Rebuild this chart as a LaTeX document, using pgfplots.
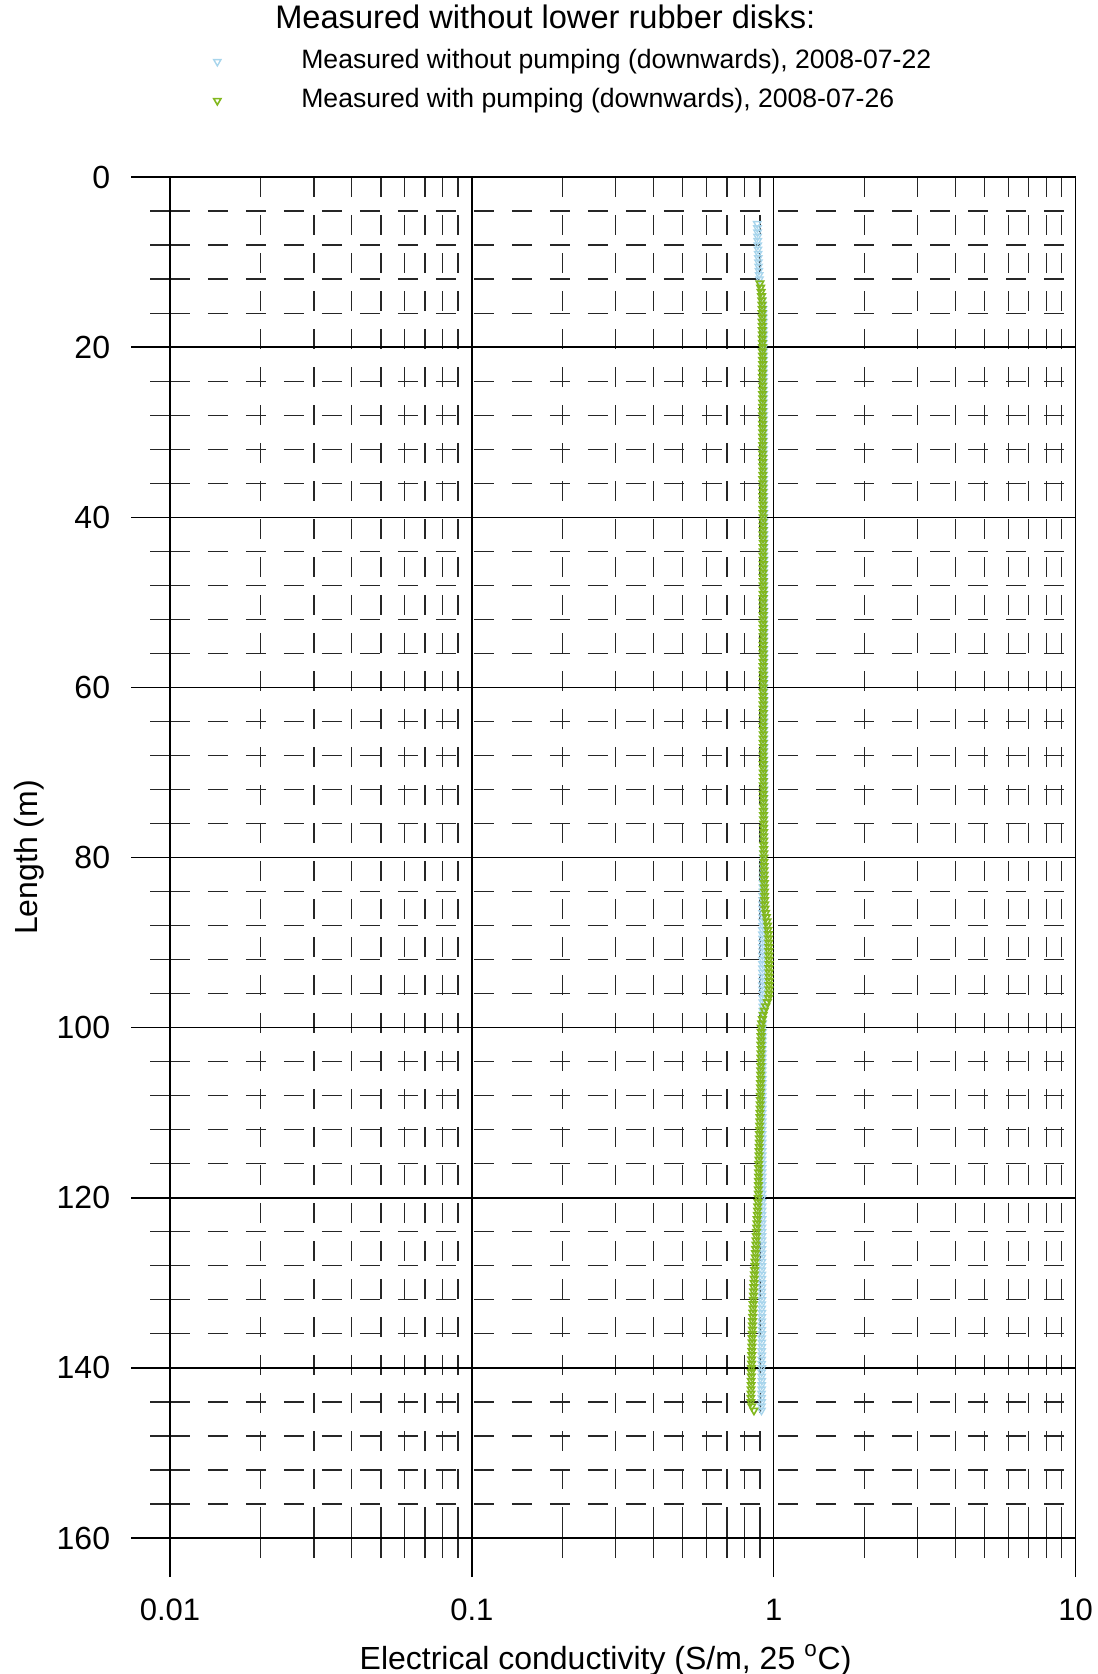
\documentclass[border=0pt]{standalone}
\usepackage{fontspec}
\setmainfont{Liberation Sans}
\usepackage{pgfplots}
\pgfplotsset{compat=1.18}

\definecolor{nopump}{RGB}{168,213,236}
\definecolor{pump}{RGB}{130,184,30}

\begin{document}
\begin{tikzpicture}
\begin{axis}[
    scale only axis,
    width=452.8pt, height=680.5pt,
    xmode=log, xmin=0.01, xmax=10,
    ymin=0, ymax=160, y dir=reverse,
    xtick={0.01,0.1,1,10}, xticklabels={0.01,0.1,1,10},
    minor xtick={0.02,0.03,0.04,0.05,0.06,0.07,0.08,0.09,0.2,0.3,0.4,0.5,0.6,0.7,0.8,0.9,2,3,4,5,6,7,8,9},
    ytick={0,20,...,160}, minor y tick num=4,
    xtick pos=left, ytick pos=left,
    grid=both,
    major grid style={black, line width=0.75pt},
    minor grid style={black!85, line width=0.6pt, dash pattern=on 10pt off 9pt},
    tick align=center,
    major tick length=39pt, minor tick length=20pt,
    major tick style={black, line width=0.75pt},
    minor tick style={black!85, line width=0.6pt},
    axis line style={line width=0.75pt},
    /pgf/number format/assume math mode=true,
    tick label style={font=\fontsize{15.5}{18}\selectfont},
    xticklabel style={yshift=-7.5pt},
    yticklabel style={xshift=-7pt, font=\fontsize{16}{18}\selectfont},
    label style={font=\fontsize{16}{19}\selectfont},
    xlabel={Electrical conductivity (S/m, 25 \textsuperscript{o}C)},
    ylabel={Length (m)},
    xlabel style={at={(axis description cs:0.481,-0.0897)}, anchor=center},
    ylabel style={at={(axis description cs:-0.155,0.5)}, anchor=center},
    title={Measured without lower rubber disks:},
    title style={at={(axis description cs:0.1085,1.1087)}, anchor=west, font=\fontsize{16.3}{19}\selectfont},
    legend cell align=left,
    legend style={at={(axis description cs:0.043,1.0704)}, anchor=west, draw=none, fill=none,
        inner sep=0pt, row sep=6.5pt, font=\fontsize{13.3}{15}\selectfont,
        nodes={inner sep=0pt, text height=10pt, text depth=3pt}},
    legend image code/.code={\path[draw=none, fill=none] (-4pt,-5pt) rectangle (42pt,5pt); \draw plot coordinates {(0pt,0pt)};},
]
\addplot[only marks, mark=triangle, mark size=2.1pt, mark options={rotate=180, draw=nopump, line width=0.7pt, fill=none}] coordinates {
(0.882,5.5) (0.883,6) (0.884,6.5) (0.884,7) (0.885,7.5) (0.886,8) (0.887,8.5) (0.888,9) (0.889,9.5) (0.890,10)
(0.891,10.5) (0.893,11) (0.895,11.5) (0.897,12) (0.900,12.5) (0.904,13) (0.909,13.5) (0.913,14) (0.917,14.5) (0.920,15)
(0.922,15.5) (0.923,16) (0.924,16.5) (0.925,17) (0.924,17.5) (0.925,18) (0.926,18.5) (0.925,19) (0.924,19.5) (0.925,20)
(0.925,20.5) (0.926,21) (0.925,21.5) (0.924,22) (0.925,22.5) (0.925,23) (0.926,23.5) (0.925,24) (0.924,24.5) (0.925,25)
(0.926,25.5) (0.925,26) (0.925,26.5) (0.924,27) (0.925,27.5) (0.926,28) (0.925,28.5) (0.925,29) (0.924,29.5) (0.925,30)
(0.926,30.5) (0.925,31) (0.925,31.5) (0.926,32) (0.925,32.5) (0.924,33) (0.925,33.5) (0.926,34) (0.926,34.5) (0.925,35)
(0.926,35.5) (0.927,36) (0.926,36.5) (0.926,37) (0.927,37.5) (0.927,38) (0.926,38.5) (0.927,39) (0.928,39.5) (0.927,40)
(0.928,40.5) (0.928,41) (0.927,41.5) (0.928,42) (0.929,42.5) (0.928,43) (0.928,43.5) (0.927,44) (0.928,44.5) (0.929,45)
(0.928,45.5) (0.928,46) (0.927,46.5) (0.928,47) (0.928,47.5) (0.929,48) (0.928,48.5) (0.928,49) (0.927,49.5) (0.928,50)
(0.928,50.5) (0.929,51) (0.928,51.5) (0.928,52) (0.927,52.5) (0.928,53) (0.929,53.5) (0.928,54) (0.928,54.5) (0.927,55)
(0.928,55.5) (0.928,56) (0.929,56.5) (0.928,57) (0.927,57.5) (0.928,58) (0.928,58.5) (0.929,59) (0.928,59.5) (0.928,60)
(0.927,60.5) (0.928,61) (0.929,61.5) (0.928,62) (0.928,62.5) (0.927,63) (0.928,63.5) (0.929,64) (0.928,64.5) (0.928,65)
(0.927,65.5) (0.928,66) (0.928,66.5) (0.929,67) (0.928,67.5) (0.927,68) (0.928,68.5) (0.928,69) (0.929,69.5) (0.928,70)
(0.928,70.5) (0.927,71) (0.928,71.5) (0.929,72) (0.928,72.5) (0.928,73) (0.927,73.5) (0.928,74) (0.928,74.5) (0.927,75)
(0.927,75.5) (0.926,76) (0.927,76.5) (0.926,77) (0.926,77.5) (0.925,78) (0.926,78.5) (0.925,79) (0.925,79.5) (0.924,80)
(0.924,80.5) (0.923,81) (0.924,81.5) (0.923,82) (0.922,82.5) (0.922,83) (0.921,83.5) (0.921,84) (0.920,84.5) (0.920,85)
(0.919,85.5) (0.919,86) (0.918,86.5) (0.918,87) (0.917,87.5) (0.918,88) (0.917,88.5) (0.917,89) (0.918,89.5) (0.917,90)
(0.917,90.5) (0.918,91) (0.917,91.5) (0.917,92) (0.918,92.5) (0.917,93) (0.917,93.5) (0.918,94) (0.918,94.5) (0.917,95)
(0.918,95.5) (0.919,96) (0.919,96.5) (0.920,97) (0.920,97.5) (0.920,98) (0.919,98.5) (0.919,99) (0.919,99.5) (0.918,100)
(0.918,100.5) (0.919,101) (0.918,101.5) (0.918,102) (0.917,102.5) (0.918,103) (0.918,103.5) (0.917,104) (0.918,104.5) (0.917,105)
(0.917,105.5) (0.918,106) (0.917,106.5) (0.917,107) (0.916,107.5) (0.917,108) (0.917,108.5) (0.916,109) (0.917,109.5) (0.916,110)
(0.916,110.5) (0.917,111) (0.916,111.5) (0.916,112) (0.915,112.5) (0.916,113) (0.916,113.5) (0.915,114) (0.916,114.5) (0.916,115)
(0.915,115.5) (0.916,116) (0.915,116.5) (0.915,117) (0.916,117.5) (0.915,118) (0.915,118.5) (0.914,119) (0.915,119.5) (0.915,120)
(0.914,120.5) (0.915,121) (0.915,121.5) (0.914,122) (0.915,122.5) (0.914,123) (0.914,123.5) (0.915,124) (0.914,124.5) (0.914,125)
(0.915,125.5) (0.914,126) (0.914,126.5) (0.913,127) (0.914,127.5) (0.914,128) (0.913,128.5) (0.914,129) (0.914,129.5) (0.913,130)
(0.914,130.5) (0.913,131) (0.913,131.5) (0.914,132) (0.913,132.5) (0.913,133) (0.914,133.5) (0.913,134) (0.913,134.5) (0.912,135)
(0.913,135.5) (0.913,136) (0.912,136.5) (0.913,137) (0.913,137.5) (0.912,138) (0.913,138.5) (0.912,139) (0.912,139.5) (0.913,140)
(0.912,140.5) (0.912,141) (0.913,141.5) (0.912,142) (0.912,142.5) (0.911,143) (0.912,143.5) (0.912,144) (0.911,144.5) (0.911,145)
};
\addlegendentry{Measured without pumping (downwards), 2008-07-22}

\addplot[only marks, mark=triangle, mark size=2.1pt, mark options={rotate=180, draw=pump, line width=0.8pt, fill=none}] coordinates {
(0.900,12.5) (0.905,13) (0.908,13.5) (0.911,14) (0.913,14.5) (0.914,15) (0.915,15.5) (0.915,16) (0.916,16.5) (0.915,17)
(0.916,17.5) (0.916,18) (0.917,18.5) (0.916,19) (0.917,19.5) (0.918,20)
(0.917,20.5) (0.918,21) (0.918,21.5) (0.919,22) (0.918,22.5) (0.918,23) (0.917,23.5) (0.918,24) (0.919,24.5) (0.918,25)
(0.918,25.5) (0.919,26) (0.918,26.5) (0.918,27) (0.917,27.5) (0.918,28) (0.919,28.5) (0.918,29) (0.918,29.5) (0.919,30)
(0.918,30.5) (0.919,31) (0.919,31.5) (0.918,32) (0.919,32.5) (0.920,33) (0.919,33.5) (0.919,34) (0.920,34.5) (0.920,35)
(0.919,35.5) (0.920,36) (0.921,36.5) (0.920,37) (0.920,37.5) (0.921,38) (0.921,38.5) (0.920,39) (0.921,39.5) (0.922,40)
(0.921,40.5) (0.922,41) (0.922,41.5) (0.921,42) (0.922,42.5) (0.923,43) (0.922,43.5) (0.922,44) (0.921,44.5) (0.922,45)
(0.923,45.5) (0.922,46) (0.922,46.5) (0.921,47) (0.922,47.5) (0.922,48) (0.923,48.5) (0.922,49) (0.922,49.5) (0.921,50)
(0.922,50.5) (0.923,51) (0.922,51.5) (0.922,52) (0.921,52.5) (0.922,53) (0.922,53.5) (0.923,54) (0.922,54.5) (0.922,55)
(0.921,55.5) (0.922,56) (0.923,56.5) (0.922,57) (0.922,57.5) (0.921,58) (0.922,58.5) (0.923,59) (0.922,59.5) (0.922,60)
(0.921,60.5) (0.922,61) (0.923,61.5) (0.922,62) (0.922,62.5) (0.923,63) (0.922,63.5) (0.922,64) (0.921,64.5) (0.922,65)
(0.923,65.5) (0.922,66) (0.922,66.5) (0.923,67) (0.922,67.5) (0.922,68) (0.923,68.5) (0.922,69) (0.923,69.5) (0.923,70)
(0.922,70.5) (0.923,71) (0.923,71.5) (0.924,72) (0.923,72.5) (0.924,73) (0.924,73.5) (0.925,74) (0.924,74.5) (0.925,75)
(0.925,75.5) (0.926,76) (0.925,76.5) (0.926,77) (0.926,77.5) (0.927,78) (0.926,78.5) (0.927,79) (0.927,79.5) (0.928,80)
(0.928,80.5) (0.929,81) (0.929,81.5) (0.930,82) (0.930,82.5) (0.931,83) (0.931,83.5) (0.932,84) (0.933,84.5) (0.933,85)
(0.934,85.5) (0.936,86) (0.940,86.5) (0.945,87) (0.950,87.5) (0.954,88) (0.957,88.5) (0.960,89) (0.961,89.5) (0.962,90)
(0.963,90.5) (0.963,91) (0.964,91.5) (0.964,92) (0.965,92.5) (0.964,93) (0.965,93.5) (0.965,94) (0.966,94.5) (0.965,95)
(0.965,95.5) (0.964,96) (0.961,96.5) (0.952,97) (0.941,97.5) (0.931,98) (0.923,98.5) (0.917,99) (0.912,99.5) (0.909,100)
(0.909,100.5) (0.908,101) (0.908,101.5) (0.907,102) (0.908,102.5) (0.907,103) (0.906,103.5) (0.906,104) (0.906,104.5) (0.905,105)
(0.905,105.5) (0.905,106) (0.904,106.5) (0.904,107) (0.904,107.5) (0.903,108) (0.903,108.5) (0.902,109) (0.901,109.5) (0.900,110)
(0.900,110.5) (0.899,111) (0.898,111.5) (0.898,112) (0.897,112.5) (0.896,113) (0.896,113.5) (0.895,114) (0.894,114.5) (0.894,115)
(0.893,115.5) (0.892,116) (0.892,116.5) (0.891,117) (0.891,117.5) (0.890,118) (0.890,118.5) (0.889,119) (0.889,119.5) (0.888,120)
(0.887,120.5) (0.885,121) (0.884,121.5) (0.883,122) (0.881,122.5) (0.880,123) (0.878,123.5) (0.877,124) (0.876,124.5) (0.874,125)
(0.873,125.5) (0.871,126) (0.870,126.5) (0.869,127) (0.867,127.5) (0.866,128) (0.865,128.5) (0.863,129) (0.862,129.5) (0.861,130)
(0.859,130.5) (0.858,131) (0.857,131.5) (0.856,132) (0.855,132.5) (0.854,133) (0.853,133.5) (0.852,134) (0.851,134.5) (0.850,135)
(0.850,135.5) (0.849,136) (0.848,136.5) (0.848,137) (0.847,137.5) (0.846,138) (0.846,138.5) (0.845,139) (0.845,139.5) (0.844,140)
(0.843,140.5) (0.843,141) (0.842,141.5) (0.842,142) (0.841,142.5) (0.841,143) (0.840,143.5) (0.840,144) (0.846,144.5) (0.860,145)
};
\addlegendentry{Measured with pumping (downwards), 2008-07-26}

\coordinate (bl) at (axis cs:0.01,160);
\end{axis}
\pgfresetboundingbox
\path[use as bounding box] ([xshift=-85pt,yshift=-68pt]bl) rectangle ++(548.5pt,837pt);
\end{tikzpicture}
\end{document}
